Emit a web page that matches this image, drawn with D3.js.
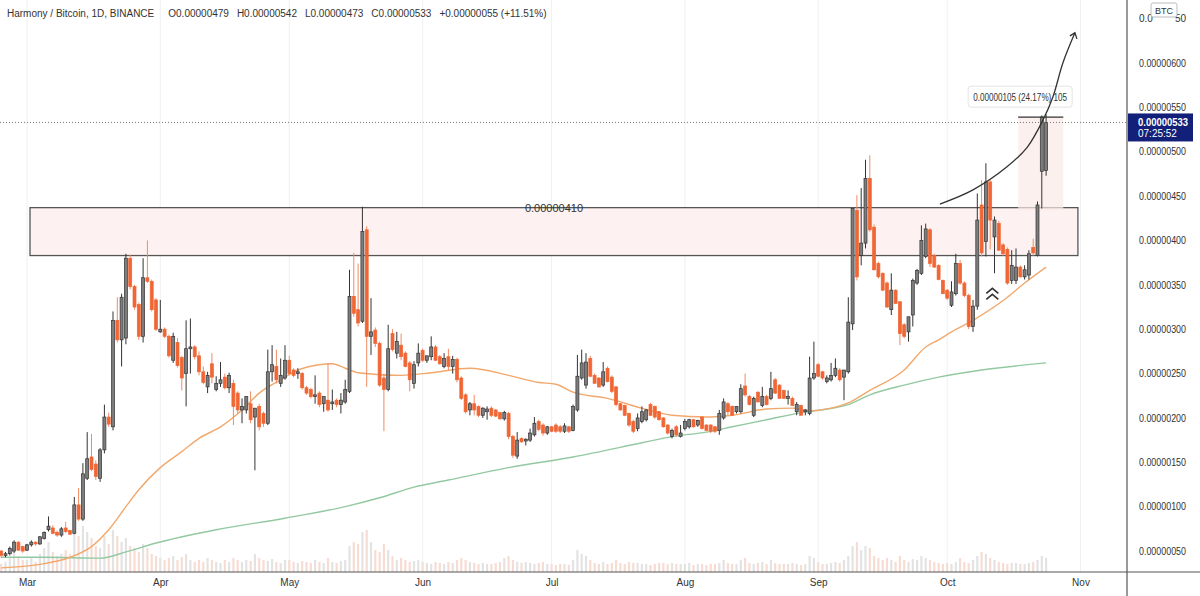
<!DOCTYPE html>
<html>
<head>
<meta charset="utf-8">
<script src="https://cdn.jsdelivr.net/npm/d3@7"></script>
<style>
  body { margin: 0; background: #fff; }
  svg { display: block; }
  text { font-family: "Liberation Sans", Arial, sans-serif; }
</style>
</head>
<body>
<script>
// #Daily candles, price in satoshi (1e-8 BTC): [open, high, low, close, volume]
const feb = [
  [50,51,42,45,8],[45,49,43,47,10],[47,55,45,53,14],[50,62,48,60,22],[60,61,50,51,16],[55,56,48,50,12]
];
const mar = [
  [51,58,50,57,12],[57,62,55,60,14],[60,61,56,58,10],[58,67,57,66,18],[64,72,63,71,24],
  [74,89,72,78,30],[76,79,69,70,20],[71,73,66,68,16],[68,77,66,75,18],[76,83,70,72,22],
  [73,74,68,69,18],[70,111,69,102,40],[102,121,84,86,36],[86,149,84,137,46],[132,184,130,154,40],
  [156,182,140,142,34],[148,152,130,134,26],[132,166,128,164,24],[164,215,160,201,36],[201,206,190,193,28],
  [190,320,186,310,42],[310,336,285,288,36],[288,340,258,336,30],[290,385,283,380,34],[380,384,345,348,26],
  [348,350,322,325,24],[328,330,288,292,20],[292,380,285,358,28],[358,400,352,354,24],[354,356,320,322,18],
  [333,335,298,300,16]
];
const apr = [
  [297,333,296,300,14],[300,302,290,292,12],[292,294,268,270,14],[265,296,262,292,16],[285,290,257,259,12],
  [268,270,231,245,15],[250,310,213,278,18],[278,312,250,280,12],[280,282,266,269,10],[270,275,248,252,12],
  [252,258,238,240,10],[235,252,228,248,14],[261,273,239,246,12],[232,247,230,239,10],[239,263,235,243,9],
  [246,250,232,234,12],[234,251,228,248,10],[239,243,192,213,14],[228,230,205,209,12],[209,222,194,213,10],
  [209,224,205,224,12],[216,230,194,198,11],[201,211,141,211,18],[213,216,186,190,14],[205,207,190,194,12],
  [194,277,192,252,11],[252,282,241,260,13],[258,277,239,243,10],[239,267,235,248,9],[245,282,243,265,12]
];
const may = [
  [265,270,248,250,12],[254,256,246,248,10],[250,256,244,252,9],[250,252,232,234,11],[234,236,226,228,10],
  [232,234,222,224,9],[224,248,216,226,12],[228,230,212,215,10],[216,224,207,224,9],[220,262,207,209,14],
  [216,232,209,218,10],[220,222,212,215,9],[215,228,205,220,11],[218,243,216,232,12],[230,367,228,337,26],
  [337,386,314,318,30],[322,374,303,307,28],[309,438,307,410,40],[412,416,235,292,42],[292,335,271,297,30],
  [299,302,280,284,22],[284,286,235,237,20],[245,250,185,232,28],[232,305,230,278,22],[295,300,275,277,16],
  [273,297,267,286,12],[282,295,265,269,14],[273,275,257,258,12],[262,264,230,243,10],[239,264,233,260,11],
  [262,284,258,273,12]
];
const jun = [
  [276,278,263,265,10],[265,270,262,270,9],[269,292,265,280,8],[280,282,264,265,10],[269,271,260,261,9],
  [258,273,256,267,8],[269,278,254,258,10],[258,270,250,266,9],[266,268,240,243,12],[245,247,220,222,14],
  [226,228,205,207,12],[209,218,203,216,10],[216,226,203,209,9],[213,214,201,203,8],[203,212,200,211,9],
  [207,213,198,210,8],[211,213,201,203,8],[209,210,201,202,9],[206,207,198,199,10],[199,208,197,206,14],
  [205,207,176,179,16],[179,181,155,158,12],[157,184,154,175,10],[177,178,172,173,9],[174,177,169,176,10],
  [175,188,173,183,9],[181,201,179,194,8],[196,198,185,187,9],[192,194,180,183,10],[183,191,181,190,8]
];
const jul = [
  [190,191,184,185,8],[192,194,183,185,7],[190,192,183,185,8],[185,194,183,191,8],[190,191,183,185,7],
  [186,215,185,213,12],[209,271,207,247,22],[245,277,243,262,18],[237,273,233,263,16],[267,270,246,247,12],
  [248,250,239,239,9],[245,246,234,235,8],[237,263,235,252,10],[256,258,240,241,8],[246,248,228,230,9],
  [235,236,213,215,12],[216,217,208,209,9],[214,215,202,203,8],[205,206,190,192,10],[196,198,183,185,9],
  [188,205,185,200,9],[196,213,194,207,8],[198,210,196,209,8],[215,217,202,203,7],[213,214,199,201,8],
  [207,208,197,198,9],[200,201,189,190,9],[192,193,181,183,8],[179,188,177,186,9],[190,192,179,181,8],
  [179,192,178,183,8]
];
const aug = [
  [188,199,186,196,8],[190,199,188,198,9],[198,199,189,190,7],[192,198,190,197,8],[201,202,187,188,8],
  [192,193,185,186,7],[192,193,183,185,8],[190,191,183,185,8],[186,209,181,205,9],[200,222,198,218,12],
  [216,218,203,207,9],[213,214,203,203,8],[207,213,205,213,8],[207,238,205,233,12],[236,250,224,226,14],
  [224,226,214,215,9],[203,224,201,222,8],[229,230,218,218,9],[214,235,212,224,10],[224,226,214,215,8],
  [222,252,220,233,12],[243,245,227,228,9],[237,238,222,222,8],[231,232,222,222,8],[222,231,215,224,8],
  [222,224,214,214,9],[207,218,203,215,8],[214,215,203,203,7],[207,210,203,209,8],[205,269,203,245,16],
  [245,286,243,250,14]
];
const sep = [
  [260,262,246,247,10],[252,253,243,245,8],[241,248,239,245,8],[243,262,241,248,9],[248,267,246,256,10],
  [254,256,241,243,9],[246,254,220,254,12],[252,336,250,308,16],[306,436,299,436,26],[434,451,355,359,30],
  [383,459,372,397,22],[397,491,391,470,26],[470,496,410,412,24],[415,418,366,367,16],[374,376,357,359,14],
  [363,364,343,344,12],[352,354,324,325,14],[322,363,316,344,12],[344,345,329,329,10],[331,331,282,295,16],
  [305,307,290,292,12],[297,314,286,314,10],[316,357,303,355,13],[352,368,350,366,12],[363,417,361,400,16],
  [382,419,380,413,14],[412,414,370,374,12],[383,385,369,370,10],[372,373,355,356,9],[355,356,340,340,8]
];
const oct = [
  [344,345,333,335,9],[327,354,325,342,8],[340,385,338,374,10],[374,378,350,352,14],[352,354,336,338,10],
  [338,340,300,303,9],[303,333,297,326,12],[326,453,322,423,16],[440,468,382,386,20],[399,487,382,466,18],
  [466,468,390,423,14],[404,427,363,423,12],[419,422,389,389,10],[395,397,383,385,9],[390,392,350,352,8],
  [355,389,351,372,9],[355,391,351,370,9],[370,372,358,359,8],[359,372,356,367,8],[361,389,356,385,9],
  [392,402,383,386,10],[383,444,382,440,12],[478,541,436,539,16],[479,542,473,533,14]
];

// #Moving averages: [candle index, price]
const ma50 = [
  [0,31],[9,35],[16,43],[21,55],[25,74],[29,100],[32,119],[37,144],[42,162],[46,177],[51,190],[56,209],
  [60,228],[65,243],[69,254],[74,260],[77,261],[80,256],[83,251],[93,248],[100,251],[109,256],[118,248],
  [125,240],[129,238],[133,229],[141,222],[149,211],[156,203],[164,201],[170,203],[178,210],[184,211],
  [188,208],[193,211],[197,217],[202,231],[210,254],[215,280],[218,288],[221,297],[226,310],[234,336],
  [238,352],[243,370]
];
const ma200 = [
  [0,43],[10,43],[23,42],[29,49],[36,59],[50,74],[66,87],[80,100],[88,110],[96,122],[104,130],[118,144],
  [133,156],[149,172],[156,179],[164,184],[170,190],[178,198],[186,206],[197,215],[202,226],[210,237],
  [218,246],[228,254],[243,262]
];

// #Axis ticks and annotations
const priceTicks = [50,100,150,200,250,300,350,400,450,500,550,600,650];
const zone = { from: 6.7, to: 250.4, low: 383, high: 437, label: 410 };
const measure = { from: 236.5, to: 247, low: 434, high: 539, label: '0.00000105 (24.17%) 105' };
const arrowPath = [[218.3,441],[226,457],[233.9,483],[238.6,505],[242.3,536],[244.6,562],[246.9,600],[249.7,634]];
const chevron = [230.5, 346];
const lastPrice = 533, countdown = '07:25:52';
const header = ['Harmony / Bitcoin, 1D, BINANCE', 'O0.00000479', 'H0.00000542', 'L0.00000473', 'C0.00000533', '+0.00000055 (+11.51%)'];

// #Layout
const width = 1200, height = 596;
const plotR = 1127, plotB = 572;
const firstDay = Date.UTC(2021, 1, 23);
const dayMs = 864e5;
const dateOf = i => new Date(firstDay + i * dayMs);

const candles = [feb, mar, apr, may, jun, jul, aug, sep, oct].flat()
  .map((r, i) => ({ i, date: dateOf(i), o: r[0], h: r[1], l: r[2], c: r[3], v: r[4] }));

const x = d3.scaleUtc()
            .domain([Date.UTC(2021, 2, 1), Date.UTC(2021, 10, 1)])
            .range([27, 1080.5]);
const y = d3.scaleLinear()
            .domain([27.5, 671])
            .range([571, 0]);
const vol = d3.scaleLinear().domain([0, 100]).range([plotB, plotB - 100]);
const xi = i => x(dateOf(i));
const fmt = v => (v / 1e8).toFixed(8);

const svg = d3.select('body')
              .append('svg')
              .attr('width', width)
              .attr('height', height);

// #Month grid
const months = d3.utcMonth.range(Date.UTC(2021, 2, 1), Date.UTC(2021, 10, 2));
svg.append('g')
   .selectAll('line')
   .data(months)
   .enter()
   .append('line')
   .attr('x1', d => x(d)).attr('x2', d => x(d))
   .attr('y1', 0).attr('y2', plotB)
   .attr('stroke', '#eef0f4');

// #Volume
svg.append('g')
   .selectAll('rect')
   .data(candles)
   .enter()
   .append('rect')
   .attr('x', d => x(d.date) - 1.1)
   .attr('width', 2.2)
   .attr('y', d => vol(d.v))
   .attr('height', d => plotB - vol(d.v))
   .attr('fill', d => d.c >= d.o ? '#e3e3e3' : '#f7dcd3');

// #Resistance zone
svg.append('rect')
   .attr('x', xi(zone.from))
   .attr('y', y(zone.high))
   .attr('width', xi(zone.to) - xi(zone.from))
   .attr('height', y(zone.low) - y(zone.high))
   .attr('fill', '#fdf2f1')
   .attr('stroke', '#555')
   .attr('stroke-width', 1.3);

// #Measure shading
svg.append('rect')
   .attr('x', xi(measure.from))
   .attr('y', y(measure.high))
   .attr('width', xi(measure.to) - xi(measure.from))
   .attr('height', y(measure.low) - y(measure.high))
   .attr('fill', '#fbe9e7')
   .attr('opacity', 0.7);

// #Moving averages
const maLine = d3.line()
                 .x(d => xi(d[0]))
                 .y(d => y(d[1]))
                 .curve(d3.curveMonotoneX);
svg.append('path').datum(ma200).attr('d', maLine)
   .attr('fill', 'none').attr('stroke', '#93c9a0').attr('stroke-width', 1.4);
svg.append('path').datum(ma50).attr('d', maLine)
   .attr('fill', 'none').attr('stroke', '#f2a86c').attr('stroke-width', 1.4);

// #Candles
const upStroke = '#333', upFill = '#7d7d7d', down = '#f06634';
const cg = svg.append('g')
              .selectAll('g')
              .data(candles)
              .enter()
              .append('g');
cg.append('line')
  .attr('x1', d => x(d.date)).attr('x2', d => x(d.date))
  .attr('y1', d => y(d.h)).attr('y2', d => y(d.l))
  .attr('stroke', d => d.c >= d.o ? upStroke : '#f38a62')
  .attr('stroke-width', 1);
cg.append('rect')
  .attr('x', d => x(d.date) - 1.5)
  .attr('width', 3)
  .attr('y', d => y(Math.max(d.o, d.c)))
  .attr('height', d => Math.max(1, Math.abs(y(d.o) - y(d.c))))
  .attr('fill', d => d.c >= d.o ? upFill : down)
  .attr('stroke', d => d.c >= d.o ? upStroke : down)
  .attr('stroke-width', 0.7);

// #Zone label
svg.append('text')
   .attr('x', (xi(zone.from) + xi(zone.to)) / 2)
   .attr('y', y(zone.high) + 4)
   .attr('text-anchor', 'middle')
   .attr('font-size', 11)
   .attr('fill', '#333')
   .text(fmt(zone.label));

// #Last price dotted line
svg.append('line')
   .attr('x1', 0).attr('x2', plotR)
   .attr('y1', y(lastPrice)).attr('y2', y(lastPrice))
   .attr('stroke', '#777')
   .attr('stroke-dasharray', '1,2');

// #Measure top line and label
svg.append('line')
   .attr('x1', xi(measure.from)).attr('x2', xi(measure.to))
   .attr('y1', y(measure.high)).attr('y2', y(measure.high))
   .attr('stroke', '#333').attr('stroke-width', 1.2);
const lbl = svg.append('g')
               .attr('transform', `translate(${xi(measure.from)},${y(measure.high) - 20})`);
lbl.append('rect')
   .attr('x', -50).attr('y', -11).attr('width', 104).attr('height', 21).attr('rx', 3)
   .attr('fill', '#fff').attr('stroke', '#e3e3e3');
lbl.append('text')
   .attr('x', 2).attr('y', 3.5)
   .attr('text-anchor', 'middle')
   .attr('font-size', 10)
   .attr('textLength', 94)
   .attr('lengthAdjust', 'spacingAndGlyphs')
   .attr('fill', '#333')
   .text(measure.label);

// #Curved arrow
const arrowLine = d3.line().x(d => xi(d[0])).y(d => y(d[1])).curve(d3.curveCatmullRom);
svg.append('path').datum(arrowPath).attr('d', arrowLine)
   .attr('fill', 'none').attr('stroke', '#333').attr('stroke-width', 1.3);
const tip = arrowPath[arrowPath.length - 1];
const tx = xi(tip[0]), ty = y(tip[1]);
svg.append('path')
   .attr('d', `M${tx - 5},${ty + 3}L${tx},${ty}L${tx + 2},${ty + 6}`)
   .attr('fill', 'none').attr('stroke', '#333').attr('stroke-width', 1.3);

// #Double chevron
const chx = xi(chevron[0]), chy = y(chevron[1]);
[0, 6].forEach(off => {
  svg.append('path')
     .attr('d', `M${chx - 6},${chy + off + 5}L${chx},${chy + off}L${chx + 6},${chy + off + 5}`)
     .attr('fill', 'none').attr('stroke', '#333').attr('stroke-width', 1.6);
});

// #Axes frame
svg.append('line').attr('x1', plotR).attr('x2', plotR).attr('y1', 0).attr('y2', height)
   .attr('stroke', '#555').attr('stroke-width', 1.2);
svg.append('line').attr('x1', 0).attr('x2', width).attr('y1', plotB).attr('y2', plotB)
   .attr('stroke', '#555').attr('stroke-width', 1.2);

// #Price axis (top tick sits under the BTC badge, as in the source)
const yAxis = svg.append('g')
                 .attr('transform', `translate(${plotR},0)`)
                 .call(d3.axisRight(y).tickValues(priceTicks.filter(v => v < 650)).tickFormat(fmt).tickSize(0).tickPadding(12));
yAxis.select('.domain').remove();
yAxis.selectAll('text').attr('font-size', 10).attr('fill', '#333')
     .attr('textLength', 47).attr('lengthAdjust', 'spacingAndGlyphs');
// partly hidden top label: only the visible ends
svg.append('text').attr('x', plotR + 12).attr('y', y(650) + 3.5)
   .attr('font-size', 10).attr('fill', '#333').text('0.0');
svg.append('text').attr('x', plotR + 59).attr('y', y(650) + 3.5)
   .attr('text-anchor', 'end').attr('font-size', 10).attr('fill', '#333').text('50');

// #Time axis
const xAxis = svg.append('g')
                 .attr('transform', `translate(0,${plotB})`)
                 .call(d3.axisBottom(x).tickValues(months).tickFormat(d3.utcFormat('%b')).tickSize(0).tickPadding(7));
xAxis.select('.domain').remove();
xAxis.selectAll('text').attr('font-size', 10).attr('fill', '#333');

// #BTC badge
svg.append('rect').attr('x', 1151).attr('y', 3).attr('width', 26).attr('height', 14).attr('rx', 2)
   .attr('fill', '#fff').attr('stroke', '#bbb');
svg.append('text').attr('x', 1164).attr('y', 14).attr('text-anchor', 'middle')
   .attr('font-size', 9).attr('fill', '#333').text('BTC');

// #Last price label
const ly = y(lastPrice);
svg.append('rect').attr('x', plotR + 1).attr('y', ly - 9).attr('width', 65).attr('height', 28)
   .attr('fill', '#13207a');
svg.append('text').attr('x', plotR + 11).attr('y', ly + 4)
   .attr('font-size', 10).attr('font-weight', 'bold').attr('fill', '#fff')
   .attr('textLength', 50).attr('lengthAdjust', 'spacingAndGlyphs').text(fmt(lastPrice));
svg.append('text').attr('x', plotR + 11).attr('y', ly + 15)
   .attr('font-size', 10).attr('fill', '#fff').text(countdown);

// #Header legend, laid out piece after piece
const hg = svg.append('g');
let hx = 7;
header.forEach((s, i) => {
  const t = hg.append('text')
              .attr('x', hx)
              .attr('y', 17)
              .attr('font-size', 10)
              .attr('fill', '#333')
              .text(s);
  hx += t.node().getComputedTextLength() + (i === 0 ? 14 : 8);
});
</script>
</body>
</html>
